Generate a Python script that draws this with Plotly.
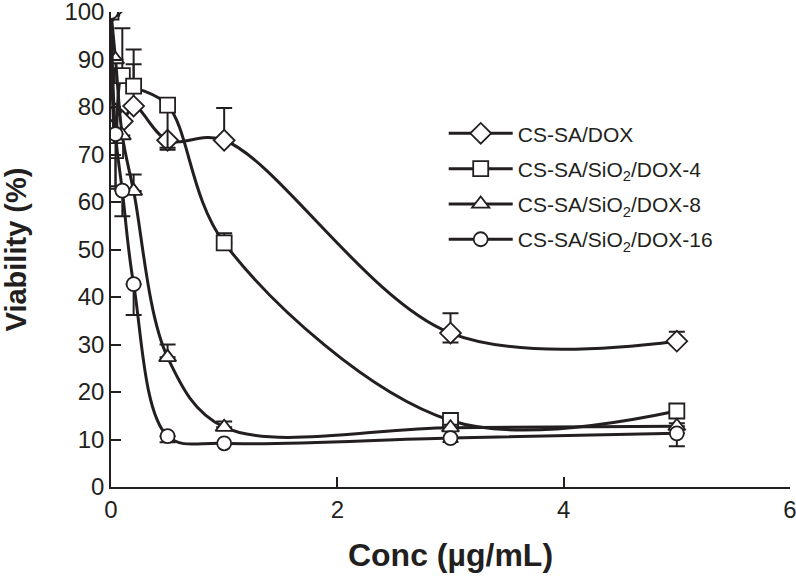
import plotly.graph_objects as go

conc = [0, 0.04, 0.1, 0.2, 0.5, 1, 3, 5]

names = ["CS-SA/DOX", "CS-SA/SiO<sub>2</sub>/DOX-4",
         "CS-SA/SiO<sub>2</sub>/DOX-8", "CS-SA/SiO<sub>2</sub>/DOX-16"]
symbols = ["diamond", "square", "triangle-up", "circle"]

via_dox = [100, 78.5, 77, 80.2, 73, 73, 32.4, 30.7]
via_4 = [100, 70.8, 86.6, 84.4, 80.4, 51.4, 14, 16]
via_8 = [100, 90, 74, 62.3, 27.3, 12.6, 12.5, 12.8]
via_16 = [100, 74.3, 62.4, 42.7, 10.7, 9.2, 10.3, 11.3]

err_up_dox = [0, 0, 0, 8.8, 0, 6.8, 4.2, 2]
err_dn_dox = [0, 0, 0, 0, 2, 0, 2, 0]
err_up_4 = [0, 0, 10, 7.7, 1, 2, 0.5, 1.5]
err_dn_4 = [0, 8, 0, 0, 9, 0, 0, 0]
err_up_8 = [0, 0, 0, 3.5, 2.7, 1.2, 0.6, 0.6]
err_dn_8 = [0, 0, 0, 0, 0, 0, 0, 0]
err_up_16 = [0, 0, 0, 0, 0, 0, 0, 0]
err_dn_16 = [0, 11, 5.4, 6.5, 1.3, 0, 0.8, 2.7]

series = [via_dox, via_4, via_8, via_16]
ups = [err_up_dox, err_up_4, err_up_8, err_up_16]
dns = [err_dn_dox, err_dn_4, err_dn_8, err_dn_16]
sizes = [16, 15, 15, 14]

ink = "#231f20"
fig = go.Figure()
for i in range(4):
    fig.add_trace(go.Scatter(
        x=conc, y=series[i], name=names[i], mode="lines+markers",
        legendgroup=f"g{i}",
        line=dict(color=ink, width=3, shape="spline", smoothing=1.0),
        marker=dict(symbol=symbols[i], size=sizes[i], color="white",
                    line=dict(color=ink, width=1.8)),
        error_y=dict(type="data", symmetric=False, array=ups[i],
                     arrayminus=dns[i], color=ink, thickness=2, width=8),
    ))

font = "Liberation Sans, Arial, sans-serif"
fig.update_layout(
    width=796, height=578,
    margin=dict(l=111, r=6, t=12, b=91),
    plot_bgcolor="white", paper_bgcolor="white",
    font=dict(family=font, color=ink),
    showlegend=True,
    legend=dict(x=0.49, y=0.787, xanchor="left", yanchor="top",
                font=dict(size=21, family=font, color=ink),
                itemwidth=64, tracegroupgap=5, bgcolor="rgba(0,0,0,0)"),
    xaxis=dict(range=[0, 6], tickvals=[0, 2, 4, 6], ticks="inside", ticklen=10,
               tickwidth=1.5, tickcolor=ink, showline=True, linecolor=ink,
               linewidth=1.5, showgrid=False, zeroline=False, automargin=False,
               ticklabeloverflow="allow",
               tickfont=dict(size=24), title=dict(text="<b>Conc (µg/mL)</b>",
               font=dict(size=32), standoff=22)),
    yaxis=dict(range=[0, 100], dtick=10, ticks="inside", ticklen=10,
               tickwidth=1.5, tickcolor=ink, showline=True, linecolor=ink,
               linewidth=1.5, showgrid=False, zeroline=False, automargin=False,
               ticklabeloverflow="allow",
               tickfont=dict(size=24), title=dict(text="<b>Viability (%)</b>",
               font=dict(size=29), standoff=42)),
)
fig.write_html("out.html", config={"displayModeBar": False},
               post_script="document.body.style.margin='0';document.body.style.padding='0';")
